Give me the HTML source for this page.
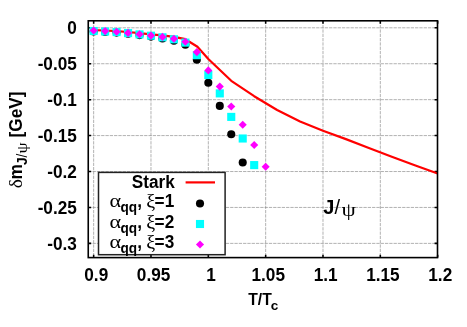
<!DOCTYPE html>
<html><head><meta charset="utf-8"><title>plot</title>
<style>html,body{margin:0;padding:0;background:#fff;overflow:hidden}svg{display:block;will-change:transform;opacity:0.999}</style>
</head><body>
<svg width="467" height="327" viewBox="0 0 467 327">
<rect x="0" y="0" width="467" height="327" fill="#fff"/>
<line x1="93.65" y1="20.8" x2="93.65" y2="257.6" stroke="#888" stroke-width="0.65" stroke-dasharray="3.3 1.0" fill="none"/>
<line x1="150.98" y1="20.8" x2="150.98" y2="257.6" stroke="#888" stroke-width="0.65" stroke-dasharray="3.3 1.0" fill="none"/>
<line x1="208.32" y1="20.8" x2="208.32" y2="257.6" stroke="#888" stroke-width="0.65" stroke-dasharray="3.3 1.0" fill="none"/>
<line x1="265.66" y1="20.8" x2="265.66" y2="257.6" stroke="#888" stroke-width="0.65" stroke-dasharray="3.3 1.0" fill="none"/>
<line x1="322.99" y1="20.8" x2="322.99" y2="257.6" stroke="#888" stroke-width="0.65" stroke-dasharray="3.3 1.0" fill="none"/>
<line x1="380.32" y1="20.8" x2="380.32" y2="257.6" stroke="#888" stroke-width="0.65" stroke-dasharray="3.3 1.0" fill="none"/>
<line x1="88.25" y1="27.80" x2="437.5" y2="27.80" stroke="#888" stroke-width="0.65" stroke-dasharray="3.3 1.0" fill="none"/>
<line x1="88.25" y1="63.73" x2="437.5" y2="63.73" stroke="#888" stroke-width="0.65" stroke-dasharray="3.3 1.0" fill="none"/>
<line x1="88.25" y1="99.66" x2="437.5" y2="99.66" stroke="#888" stroke-width="0.65" stroke-dasharray="3.3 1.0" fill="none"/>
<line x1="88.25" y1="135.59" x2="437.5" y2="135.59" stroke="#888" stroke-width="0.65" stroke-dasharray="3.3 1.0" fill="none"/>
<line x1="88.25" y1="171.52" x2="437.5" y2="171.52" stroke="#888" stroke-width="0.65" stroke-dasharray="3.3 1.0" fill="none"/>
<line x1="88.25" y1="207.45" x2="437.5" y2="207.45" stroke="#888" stroke-width="0.65" stroke-dasharray="3.3 1.0" fill="none"/>
<line x1="88.25" y1="243.38" x2="437.5" y2="243.38" stroke="#888" stroke-width="0.65" stroke-dasharray="3.3 1.0" fill="none"/>
<path d="M93.65 257.6v-2.9M93.65 20.8v2.9M150.98 257.6v-2.9M150.98 20.8v2.9M208.32 257.6v-2.9M208.32 20.8v2.9M265.66 257.6v-2.9M265.66 20.8v2.9M322.99 257.6v-2.9M322.99 20.8v2.9M380.32 257.6v-2.9M380.32 20.8v2.9M437.66 257.6v-2.9M437.66 20.8v2.9M88.25 27.80h2.9M437.5 27.80h-2.9M88.25 63.73h2.9M437.5 63.73h-2.9M88.25 99.66h2.9M437.5 99.66h-2.9M88.25 135.59h2.9M437.5 135.59h-2.9M88.25 171.52h2.9M437.5 171.52h-2.9M88.25 207.45h2.9M437.5 207.45h-2.9M88.25 243.38h2.9M437.5 243.38h-2.9" stroke="#000" stroke-width="1.55" fill="none"/>
<polyline points="93.65,30.20 105.12,30.50 116.58,31.10 128.05,32.00 139.52,33.20 150.98,34.30 162.45,35.40 173.92,36.80 185.39,39.20 197.43,46.80 208.32,59.00 231.25,80.80 254.19,96.20 277.12,110.00 300.06,121.50 322.99,130.70 345.92,139.10 368.86,148.00 391.79,156.80 414.73,165.20 437.66,173.50" stroke="#ff0000" stroke-width="2.2" fill="none" stroke-linejoin="round"/>
<circle cx="93.65" cy="31.50" r="4.05" fill="#000"/>
<circle cx="105.12" cy="32.00" r="4.05" fill="#000"/>
<circle cx="116.58" cy="32.60" r="4.05" fill="#000"/>
<circle cx="128.05" cy="33.70" r="4.05" fill="#000"/>
<circle cx="139.52" cy="35.10" r="4.05" fill="#000"/>
<circle cx="150.99" cy="36.60" r="4.05" fill="#000"/>
<circle cx="162.45" cy="38.50" r="4.05" fill="#000"/>
<circle cx="173.92" cy="40.70" r="4.05" fill="#000"/>
<circle cx="185.39" cy="44.80" r="4.05" fill="#000"/>
<circle cx="196.85" cy="59.70" r="4.05" fill="#000"/>
<circle cx="208.32" cy="82.80" r="4.05" fill="#000"/>
<circle cx="219.79" cy="105.90" r="4.05" fill="#000"/>
<circle cx="231.25" cy="134.20" r="4.05" fill="#000"/>
<circle cx="242.72" cy="162.50" r="4.05" fill="#000"/>
<rect x="89.60" y="26.95" width="8.1" height="8.1" fill="#00ffff"/>
<rect x="101.07" y="27.45" width="8.1" height="8.1" fill="#00ffff"/>
<rect x="112.53" y="28.05" width="8.1" height="8.1" fill="#00ffff"/>
<rect x="124.00" y="29.05" width="8.1" height="8.1" fill="#00ffff"/>
<rect x="135.47" y="30.35" width="8.1" height="8.1" fill="#00ffff"/>
<rect x="146.94" y="31.65" width="8.1" height="8.1" fill="#00ffff"/>
<rect x="158.40" y="33.25" width="8.1" height="8.1" fill="#00ffff"/>
<rect x="169.87" y="35.25" width="8.1" height="8.1" fill="#00ffff"/>
<rect x="181.34" y="38.55" width="8.1" height="8.1" fill="#00ffff"/>
<rect x="192.80" y="51.15" width="8.1" height="8.1" fill="#00ffff"/>
<rect x="204.27" y="70.95" width="8.1" height="8.1" fill="#00ffff"/>
<rect x="215.74" y="89.35" width="8.1" height="8.1" fill="#00ffff"/>
<rect x="227.20" y="112.85" width="8.1" height="8.1" fill="#00ffff"/>
<rect x="238.67" y="134.45" width="8.1" height="8.1" fill="#00ffff"/>
<rect x="250.14" y="161.05" width="8.1" height="8.1" fill="#00ffff"/>
<path d="M93.65 26.45l4.05 4.05l-4.05 4.05l-4.05 -4.05z" fill="#ff00ff"/>
<path d="M105.12 27.05l4.05 4.05l-4.05 4.05l-4.05 -4.05z" fill="#ff00ff"/>
<path d="M116.58 27.75l4.05 4.05l-4.05 4.05l-4.05 -4.05z" fill="#ff00ff"/>
<path d="M128.05 28.85l4.05 4.05l-4.05 4.05l-4.05 -4.05z" fill="#ff00ff"/>
<path d="M139.52 30.15l4.05 4.05l-4.05 4.05l-4.05 -4.05z" fill="#ff00ff"/>
<path d="M150.99 31.55l4.05 4.05l-4.05 4.05l-4.05 -4.05z" fill="#ff00ff"/>
<path d="M162.45 32.85l4.05 4.05l-4.05 4.05l-4.05 -4.05z" fill="#ff00ff"/>
<path d="M173.92 34.75l4.05 4.05l-4.05 4.05l-4.05 -4.05z" fill="#ff00ff"/>
<path d="M185.39 37.75l4.05 4.05l-4.05 4.05l-4.05 -4.05z" fill="#ff00ff"/>
<path d="M196.85 48.05l4.05 4.05l-4.05 4.05l-4.05 -4.05z" fill="#ff00ff"/>
<path d="M208.32 66.35l4.05 4.05l-4.05 4.05l-4.05 -4.05z" fill="#ff00ff"/>
<path d="M219.79 82.55l4.05 4.05l-4.05 4.05l-4.05 -4.05z" fill="#ff00ff"/>
<path d="M231.25 102.45l4.05 4.05l-4.05 4.05l-4.05 -4.05z" fill="#ff00ff"/>
<path d="M242.72 120.75l4.05 4.05l-4.05 4.05l-4.05 -4.05z" fill="#ff00ff"/>
<path d="M254.19 140.95l4.05 4.05l-4.05 4.05l-4.05 -4.05z" fill="#ff00ff"/>
<path d="M265.66 162.75l4.05 4.05l-4.05 4.05l-4.05 -4.05z" fill="#ff00ff"/>
<rect x="98.5" y="172.4" width="126.6" height="82.3" fill="#fff" stroke="#222" stroke-width="1.5"/>
<rect x="88.25" y="20.8" width="349.25" height="236.80" fill="none" stroke="#000" stroke-width="1.6"/>
<text transform="translate(76.80 34.10) scale(1.0 1.03)" font-size="17.2" text-anchor="end" style="font-family:'Liberation Sans',sans-serif;font-weight:bold" fill="#000">0</text>
<text transform="translate(76.80 70.03) scale(1.0 1.03)" font-size="17.2" text-anchor="end" style="font-family:'Liberation Sans',sans-serif;font-weight:bold" fill="#000">-0.05</text>
<text transform="translate(76.80 105.96) scale(1.0 1.03)" font-size="17.2" text-anchor="end" style="font-family:'Liberation Sans',sans-serif;font-weight:bold" fill="#000">-0.1</text>
<text transform="translate(76.80 141.89) scale(1.0 1.03)" font-size="17.2" text-anchor="end" style="font-family:'Liberation Sans',sans-serif;font-weight:bold" fill="#000">-0.15</text>
<text transform="translate(76.80 177.82) scale(1.0 1.03)" font-size="17.2" text-anchor="end" style="font-family:'Liberation Sans',sans-serif;font-weight:bold" fill="#000">-0.2</text>
<text transform="translate(76.80 213.75) scale(1.0 1.03)" font-size="17.2" text-anchor="end" style="font-family:'Liberation Sans',sans-serif;font-weight:bold" fill="#000">-0.25</text>
<text transform="translate(76.80 249.68) scale(1.0 1.03)" font-size="17.2" text-anchor="end" style="font-family:'Liberation Sans',sans-serif;font-weight:bold" fill="#000">-0.3</text>
<text transform="translate(96.25 280.90) scale(1.0 1.03)" font-size="17.2" text-anchor="middle" style="font-family:'Liberation Sans',sans-serif;font-weight:bold" fill="#000">0.9</text>
<text transform="translate(153.58 280.90) scale(1.0 1.03)" font-size="17.2" text-anchor="middle" style="font-family:'Liberation Sans',sans-serif;font-weight:bold" fill="#000">0.95</text>
<text transform="translate(210.92 280.90) scale(1.0 1.03)" font-size="17.2" text-anchor="middle" style="font-family:'Liberation Sans',sans-serif;font-weight:bold" fill="#000">1</text>
<text transform="translate(268.26 280.90) scale(1.0 1.03)" font-size="17.2" text-anchor="middle" style="font-family:'Liberation Sans',sans-serif;font-weight:bold" fill="#000">1.05</text>
<text transform="translate(325.59 280.90) scale(1.0 1.03)" font-size="17.2" text-anchor="middle" style="font-family:'Liberation Sans',sans-serif;font-weight:bold" fill="#000">1.1</text>
<text transform="translate(382.92 280.90) scale(1.0 1.03)" font-size="17.2" text-anchor="middle" style="font-family:'Liberation Sans',sans-serif;font-weight:bold" fill="#000">1.15</text>
<text transform="translate(440.26 280.90) scale(1.0 1.03)" font-size="17.2" text-anchor="middle" style="font-family:'Liberation Sans',sans-serif;font-weight:bold" fill="#000">1.2</text>
<text transform="translate(174.80 188.30) scale(1.0 1.03)" font-size="17.2" text-anchor="end" style="font-family:'Liberation Sans',sans-serif;font-weight:bold" fill="#000">Stark</text>
<text transform="translate(109.46 207.30) scale(1.2 1.0)" font-size="18.5" text-anchor="start" style="font-family:'Liberation Serif',serif;font-weight:normal" fill="#000">α</text>
<text transform="translate(120.40 212.40) scale(1.0 1.03)" font-size="13.6" text-anchor="start" style="font-family:'Liberation Sans',sans-serif;font-weight:bold" fill="#000">qq</text>
<text transform="translate(137.30 207.30) scale(1.0 1.03)" font-size="17.2" text-anchor="start" style="font-family:'Liberation Sans',sans-serif;font-weight:bold" fill="#000">,</text>
<text transform="translate(146.22 207.30) scale(1.04 1.0)" font-size="19.3" text-anchor="start" style="font-family:'Liberation Serif',serif;font-weight:normal" fill="#000">ξ</text>
<text transform="translate(154.60 207.30) scale(1.0 1.03)" font-size="17.2" text-anchor="start" style="font-family:'Liberation Sans',sans-serif;font-weight:bold" fill="#000">=1</text>
<text transform="translate(109.46 227.60) scale(1.2 1.0)" font-size="18.5" text-anchor="start" style="font-family:'Liberation Serif',serif;font-weight:normal" fill="#000">α</text>
<text transform="translate(120.40 232.70) scale(1.0 1.03)" font-size="13.6" text-anchor="start" style="font-family:'Liberation Sans',sans-serif;font-weight:bold" fill="#000">qq</text>
<text transform="translate(137.30 227.60) scale(1.0 1.03)" font-size="17.2" text-anchor="start" style="font-family:'Liberation Sans',sans-serif;font-weight:bold" fill="#000">,</text>
<text transform="translate(146.22 227.60) scale(1.04 1.0)" font-size="19.3" text-anchor="start" style="font-family:'Liberation Serif',serif;font-weight:normal" fill="#000">ξ</text>
<text transform="translate(154.60 227.60) scale(1.0 1.03)" font-size="17.2" text-anchor="start" style="font-family:'Liberation Sans',sans-serif;font-weight:bold" fill="#000">=2</text>
<text transform="translate(109.46 248.00) scale(1.2 1.0)" font-size="18.5" text-anchor="start" style="font-family:'Liberation Serif',serif;font-weight:normal" fill="#000">α</text>
<text transform="translate(120.40 253.10) scale(1.0 1.03)" font-size="13.6" text-anchor="start" style="font-family:'Liberation Sans',sans-serif;font-weight:bold" fill="#000">qq</text>
<text transform="translate(137.30 248.00) scale(1.0 1.03)" font-size="17.2" text-anchor="start" style="font-family:'Liberation Sans',sans-serif;font-weight:bold" fill="#000">,</text>
<text transform="translate(146.22 248.00) scale(1.04 1.0)" font-size="19.3" text-anchor="start" style="font-family:'Liberation Serif',serif;font-weight:normal" fill="#000">ξ</text>
<text transform="translate(154.60 248.00) scale(1.0 1.03)" font-size="17.2" text-anchor="start" style="font-family:'Liberation Sans',sans-serif;font-weight:bold" fill="#000">=3</text>
<line x1="185.6" y1="182.4" x2="215" y2="182.4" stroke="#ff0000" stroke-width="2.2"/>
<circle cx="200.00" cy="203.50" r="4.05" fill="#000"/>
<rect x="195.95" y="219.95" width="8.1" height="8.1" fill="#00ffff"/>
<path d="M200.00 240.45l4.05 4.05l-4.05 4.05l-4.05 -4.05z" fill="#ff00ff"/>
<text transform="translate(323.30 214.30) scale(1.0 1.0)" font-size="20" text-anchor="start" style="font-family:'Liberation Sans',sans-serif;font-weight:bold" fill="#000">J</text>
<text transform="translate(334.60 214.30) scale(1.0 1.0)" font-size="20" text-anchor="start" style="font-family:'Liberation Sans',sans-serif;font-weight:normal" fill="#000">/</text>
<text transform="translate(341.60 215.50) scale(1.25 1.0)" font-size="18.3" text-anchor="start" style="font-family:'Liberation Serif',serif;font-weight:normal" fill="#000">ψ</text>
<text transform="translate(248.20 305.10) scale(1.0 1.0)" font-size="15.7" text-anchor="start" style="font-family:'Liberation Sans',sans-serif;font-weight:bold" fill="#000">T/T</text>
<text transform="translate(270.70 310.30) scale(1.0 1.0)" font-size="13.6" text-anchor="start" style="font-family:'Liberation Sans',sans-serif;font-weight:bold" fill="#000">c</text>
<g transform="translate(22.3 187.6) rotate(-90)">
<text transform="translate(-0.54 0.00) scale(1.07 1.0)" font-size="18.2" text-anchor="start" style="font-family:'Liberation Serif',serif;font-weight:normal" fill="#000">δ</text>
<text transform="translate(8.20 0.00) scale(1.0 1.03)" font-size="17.2" text-anchor="start" style="font-family:'Liberation Sans',sans-serif;font-weight:bold" fill="#000">m</text>
<text transform="translate(22.50 5.10) scale(1.0 1.03)" font-size="13.6" text-anchor="start" style="font-family:'Liberation Sans',sans-serif;font-weight:bold" fill="#000">J</text>
<text transform="translate(30.00 5.10) scale(1.0 1.03)" font-size="13.6" text-anchor="start" style="font-family:'Liberation Sans',sans-serif;font-weight:normal" fill="#000">/</text>
<text transform="translate(34.17 5.00) scale(1.15 1.0)" font-size="15.5" text-anchor="start" style="font-family:'Liberation Serif',serif;font-weight:normal" fill="#000">ψ</text>
<text transform="translate(50.20 0.00) scale(1.0 1.03)" font-size="17.2" text-anchor="start" style="font-family:'Liberation Sans',sans-serif;font-weight:bold" fill="#000">[GeV]</text>
</g>
</svg>
</body></html>
